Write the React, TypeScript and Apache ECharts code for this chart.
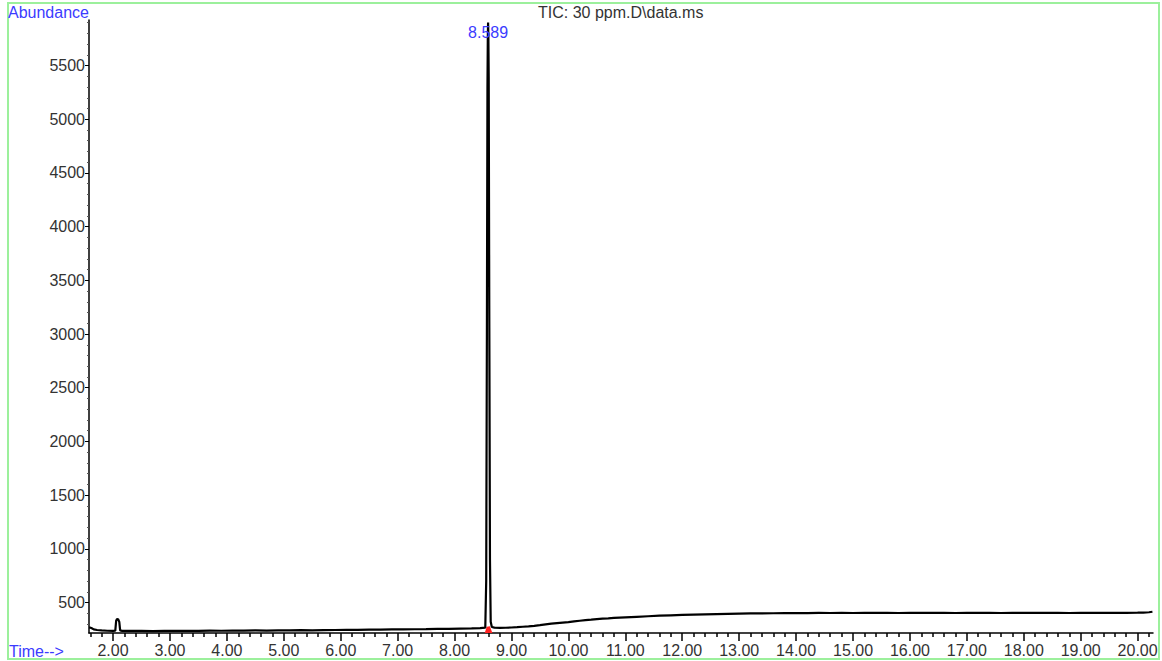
import React, { useEffect, useRef } from "react";
import * as echarts from "echarts";

// retention time (min)
const times: number[] = [
  1.58, 1.62, 1.66, 1.72, 1.8, 1.9, 2.0, 2.04, 2.055, 2.07, 2.09, 2.11, 2.125, 2.16,
  2.3, 2.5, 2.7, 2.9, 3.1, 3.3, 3.5, 3.7, 3.9, 4.1, 4.3, 4.5, 4.7, 4.9, 5.1, 5.3,
  5.5, 5.7, 5.9, 6.1, 6.3, 6.5, 6.7, 6.9, 7.1, 7.3, 7.5, 7.7, 7.9, 8.1, 8.3, 8.45,
  8.54, 8.556, 8.568, 8.578, 8.584, 8.589, 8.594, 8.6, 8.61, 8.622, 8.635, 8.655, 8.7,
  8.8, 8.9, 9.0, 9.1, 9.2, 9.3, 9.4, 9.5, 9.6, 9.7, 9.8, 9.9, 10.0, 10.1, 10.2, 10.3,
  10.4, 10.5, 10.6, 10.7, 10.8, 10.9, 11.0, 11.2, 11.4, 11.6, 11.8, 12.0, 12.2, 12.4,
  12.6, 12.8, 13.0, 13.2, 13.4, 13.6, 13.8, 14.0, 14.2, 14.4, 14.6, 14.8, 15.0, 15.2,
  15.4, 15.6, 15.8, 16.0, 16.2, 16.4, 16.6, 16.8, 17.0, 17.2, 17.4, 17.6, 17.8, 18.0,
  18.2, 18.4, 18.6, 18.8, 19.0, 19.2, 19.4, 19.6, 19.8, 20.0, 20.1, 20.2, 20.26,
];

// abundance
const abundance: number[] = [
  268, 262, 250, 244, 240, 237, 236, 238, 330, 346, 344, 320, 240, 236,
  235, 236, 234, 236, 235, 237, 236, 238, 237, 239, 238, 240, 239, 241, 240, 242,
  241, 243, 244, 245, 246, 247, 248, 249, 250, 251, 252, 254, 255, 257, 259, 262,
  266, 700, 3000, 5300, 5750, 5900, 5780, 5400, 3200, 900, 320, 272, 266,
  264, 265, 267, 270, 274, 278, 283, 289, 296, 303, 308, 313, 318, 324, 330, 336,
  340, 345, 350, 352, 356, 359, 362, 367, 372, 377, 381, 385, 388, 390,
  392, 394, 396, 398, 399, 400, 401, 402, 401, 403, 402, 403, 402, 403,
  404, 403, 402, 404, 403, 404, 403, 402, 404, 403, 404, 402, 403, 404,
  403, 404, 403, 402, 404, 403, 404, 403, 404, 405, 406, 409, 414,
];

// integrated area marker at the base of the main peak
const markTimes: number[] = [8.53, 8.565, 8.62, 8.665];
const markValues: number[] = [216, 275, 280, 216];

const peakTime = 8.589;
const peakLabel = "8.589";

const yMajorTicks: number[] = [500, 1000, 1500, 2000, 2500, 3000, 3500, 4000, 4500, 5000, 5500];
const xMajorTicks: number[] = [2, 3, 4, 5, 6, 7, 8, 9, 10, 11, 12, 13, 14, 15, 16, 17, 18, 19, 20];

const Y_MIN = 216;
const Y_MAX = 5924;
const X_MIN = 1.578;
const X_MAX = 20.27;

const yMinorTicks: number[] = [];
for (let v = 300; v <= 5900; v += 100) if (v % 500 !== 0) yMinorTicks.push(v);
const xMinorTicks: number[] = [];
for (let i = 8; i <= 101; i++) {
  const v = Math.round(i * 2) / 10;
  if (Math.abs(v - Math.round(v)) > 1e-6) xMinorTicks.push(v);
}

const FONT = "'Liberation Sans', Arial, sans-serif";
const BLUE = "#3b3bff";
const TXT = "#333333";

export default function App() {
  const ref = useRef<HTMLDivElement>(null);
  useEffect(() => {
    if (!ref.current) return;
    const chart = echarts.init(ref.current, undefined, { renderer: "svg" });
    const line = times.map((t, i) => [t, abundance[i]]);
    const mark = markTimes.map((t, i) => [t, markValues[i]]);
    const peakVal = abundance[times.indexOf(peakTime)];
    chart.setOption({
      animation: false,
      backgroundColor: "#ffffff",
      grid: { left: 89, right: 9, top: 20, bottom: 28, containLabel: false },
      xAxis: [
        {
          type: "value",
          min: X_MIN,
          max: X_MAX,
          axisLine: { show: true, lineStyle: { color: "#000", width: 1.5 } },
          axisTick: { show: true, customValues: xMajorTicks, length: 8, lineStyle: { color: "#000", width: 1.5 } },
          axisLabel: {
            show: true,
            customValues: xMajorTicks,
            formatter: (v: number) => v.toFixed(2),
            fontFamily: FONT,
            fontSize: 16,
            color: TXT,
            margin: 9,
          },
          splitLine: { show: false },
        },
        {
          type: "value",
          min: X_MIN,
          max: X_MAX,
          position: "bottom",
          axisLine: { show: false },
          axisTick: { show: true, customValues: xMinorTicks, length: 4, lineStyle: { color: "#000", width: 1.5 } },
          axisLabel: { show: false },
          splitLine: { show: false },
        },
      ],
      yAxis: [
        {
          type: "value",
          min: Y_MIN,
          max: Y_MAX,
          axisLine: { show: true, lineStyle: { color: "#000", width: 1.5 } },
          axisTick: { show: true, customValues: yMajorTicks, length: 4, lineStyle: { color: "#000", width: 1 } },
          axisLabel: {
            show: true,
            customValues: yMajorTicks,
            formatter: (v: number) => String(v),
            fontFamily: FONT,
            fontSize: 16,
            color: TXT,
            margin: 4,
          },
          splitLine: { show: false },
        },
        {
          type: "value",
          min: Y_MIN,
          max: Y_MAX,
          position: "left",
          axisLine: { show: false },
          axisTick: { show: true, customValues: yMinorTicks, length: 2, lineStyle: { color: "#555", width: 1 } },
          axisLabel: { show: false },
          splitLine: { show: false },
        },
      ],
      series: [
        {
          type: "line",
          data: mark,
          xAxisIndex: 0,
          yAxisIndex: 0,
          showSymbol: false,
          lineStyle: { width: 0 },
          areaStyle: { color: "#ff2020", opacity: 1, origin: "start" },
          z: 1,
        },
        {
          type: "line",
          data: line,
          xAxisIndex: 0,
          yAxisIndex: 0,
          showSymbol: false,
          lineStyle: { color: "#000", width: 2.2 },
          z: 2,
          markPoint: {
            symbol: "circle",
            symbolSize: 0,
            data: [{ coord: [peakTime, peakVal] }],
            label: {
              show: true,
              formatter: peakLabel,
              position: "bottom",
              distance: 2,
              color: BLUE,
              fontFamily: FONT,
              fontSize: 16,
            },
          },
        },
      ],
      graphic: [
        {
          type: "rect",
          shape: { x: 8, y: 3, width: 1151, height: 656 },
          style: { fill: "none", stroke: "#9cf09c", lineWidth: 2 },
          silent: true,
        },
        {
          type: "text",
          left: 8,
          top: 4,
          style: { text: "Abundance", fill: BLUE, font: `16px ${FONT}` },
        },
        {
          type: "text",
          left: 538,
          top: 4,
          style: { text: "TIC: 30 ppm.D\\data.ms", fill: TXT, font: `16px ${FONT}` },
        },
        {
          type: "text",
          left: 9,
          top: 643,
          style: { text: "Time-->", fill: BLUE, font: `16px ${FONT}` },
        },
      ],
    });
    return () => chart.dispose();
  }, []);
  return (
    <div
      ref={ref}
      style={{ position: "fixed", left: 0, top: 0, width: 1162, height: 661, background: "#fff" }}
    />
  );
}
